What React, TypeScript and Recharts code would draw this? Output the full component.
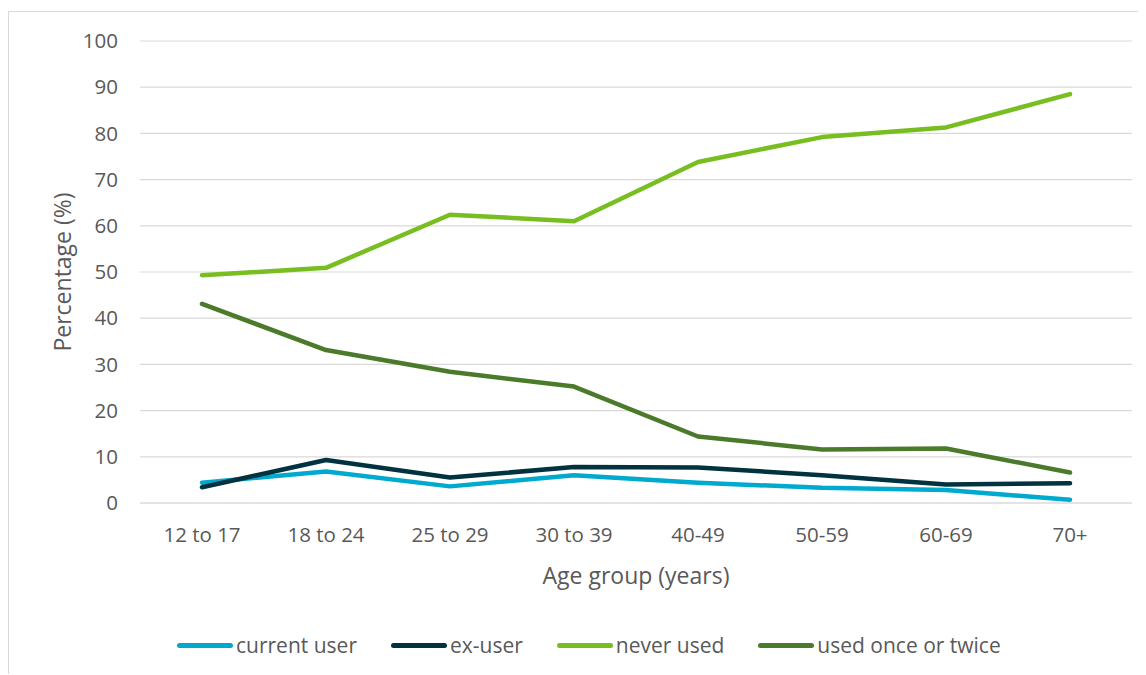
import React from "react";
import { LineChart, Line, XAxis, YAxis, CartesianGrid, Label } from "recharts";

const categories = ["12 to 17", "18 to 24", "25 to 29", "30 to 39", "40-49", "50-59", "60-69", "70+"];
const currentUser = [4.4, 6.8, 3.6, 6.0, 4.4, 3.3, 2.8, 0.7];
const exUser = [3.4, 9.3, 5.5, 7.8, 7.7, 6.0, 4.0, 4.3];
const neverUsed = [49.3, 50.9, 62.4, 61.0, 73.8, 79.2, 81.3, 88.5];
const usedOnceOrTwice = [43.1, 33.1, 28.4, 25.2, 14.4, 11.6, 11.8, 6.6];
const yTicks = [0, 10, 20, 30, 40, 50, 60, 70, 80, 90, 100];

const seriesDefs = [
  { key: "current", name: "current user", color: "#00A9CE", values: currentUser },
  { key: "ex", name: "ex-user", color: "#00323F", values: exUser },
  { key: "never", name: "never used", color: "#78BE21", values: neverUsed },
  { key: "once", name: "used once or twice", color: "#4A7A2A", values: usedOnceOrTwice },
];

const data = categories.map((c, i) => {
  const row: Record<string, any> = { category: c };
  seriesDefs.forEach((s) => (row[s.key] = s.values[i]));
  return row;
});

const FONT = "'Open Sans', sans-serif";
const TEXT = "#595959";

export default function App() {
  return (
    <div
      style={{
        position: "relative",
        marginTop: 3,
        width: 1150,
        height: 662,
        borderLeft: "1px solid #d9d9d9",
        borderTop: "1px solid #d9d9d9",
        fontFamily: FONT,
        background: "#fff",
      }}
    >
      <LineChart
        width={1137}
        height={662}
        data={data}
        margin={{ top: 29, right: 14, bottom: 0, left: 0 }}
      >
        <CartesianGrid vertical={false} stroke="#d9d9d9" strokeWidth={1.2} />
        <XAxis
          dataKey="category"
          height={171}
          padding={{ left: 62, right: 62 }}
          tickLine={false}
          tickSize={0}
          tickMargin={24}
          axisLine={{ stroke: "#d9d9d9", strokeWidth: 1.2 }}
          tick={{ fill: TEXT, fontSize: 20.5, fontFamily: FONT }}
          interval={0}
        >
          <Label
            content={({ viewBox }: any) => (
              <text
                x={viewBox.x + viewBox.width / 2}
                y={viewBox.y + 72}
                textAnchor="middle"
                dominantBaseline="central"
                fill={TEXT}
                fontSize={23}
                fontFamily={FONT}
              >
                Age group (years)
              </text>
            )}
          />
        </XAxis>
        <YAxis
          width={131}
          domain={[0, 100]}
          ticks={yTicks}
          interval={0}
          tickLine={false}
          tickSize={0}
          tickMargin={22}
          axisLine={false}
          tick={{ fill: TEXT, fontSize: 20.5, fontFamily: FONT }}
        >
          <Label
            content={() => (
              <text
                x={53}
                y={260}
                transform="rotate(-90, 53, 260)"
                textAnchor="middle"
                dominantBaseline="central"
                fill={TEXT}
                fontSize={23}
                fontFamily={FONT}
              >
                Percentage (%)
              </text>
            )}
          />
        </YAxis>
        {seriesDefs.map((s) => (
          <Line
            key={s.key}
            dataKey={s.key}
            name={s.name}
            stroke={s.color}
            strokeWidth={4.5}
            strokeLinecap="round"
            strokeLinejoin="round"
            dot={false}
            activeDot={false}
            isAnimationActive={false}
          />
        ))}
      </LineChart>
      <div
        style={{
          position: "absolute",
          left: 168,
          top: 619,
          display: "flex",
          alignItems: "center",
          height: 28,
          gap: 34,
        }}
      >
        {seriesDefs.map((s) => (
          <div key={s.key} style={{ display: "flex", alignItems: "center" }}>
            <div
              style={{
                width: 56,
                height: 5,
                borderRadius: 3,
                background: s.color,
                marginRight: 3,
              }}
            />
            <span style={{ color: TEXT, fontSize: 21, fontFamily: FONT, whiteSpace: "nowrap" }}>
              {s.name}
            </span>
          </div>
        ))}
      </div>
    </div>
  );
}
